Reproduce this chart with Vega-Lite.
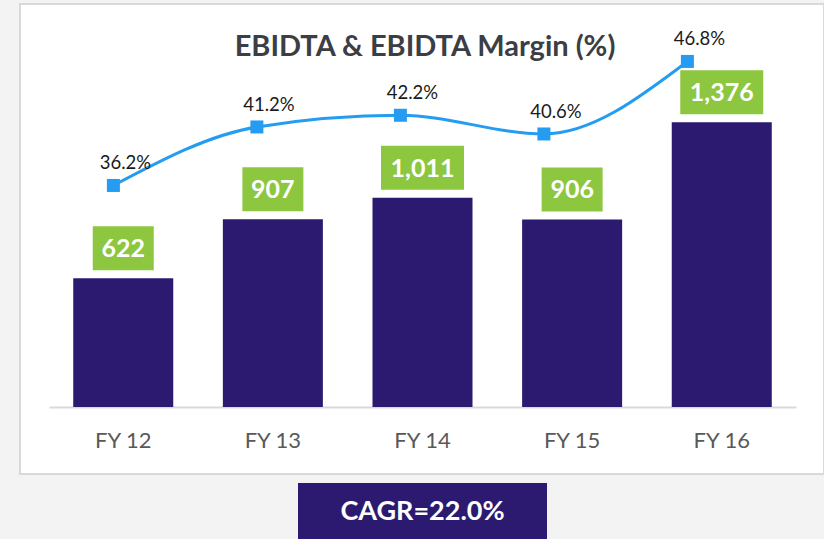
{
  "$schema": "https://vega.github.io/schema/vega-lite/v6.json",
  "width": 804,
  "height": 470,
  "autosize": {"type": "none"},
  "padding": {"left": 20, "top": 4, "right": 0, "bottom": 65},
  "background": "#f3f3f3",
  "config": {
    "view": {"fill": "white", "stroke": "#d9d9d9", "strokeWidth": 2},
    "font": "Lato"
  },
  "title": {
    "text": "EBIDTA & EBIDTA Margin (%)",
    "fontSize": 29,
    "fontWeight": "bold",
    "color": "#3b3e45",
    "anchor": "middle",
    "dx": 3,
    "offset": -58
  },
  "data": {
    "values": [
      {"year": "FY 12", "ebitda": 622, "margin": 36.2, "pct": "36.2%"},
      {"year": "FY 13", "ebitda": 907, "margin": 41.2, "pct": "41.2%"},
      {"year": "FY 14", "ebitda": 1011, "margin": 42.2, "pct": "42.2%"},
      {"year": "FY 15", "ebitda": 906, "margin": 40.6, "pct": "40.6%"},
      {"year": "FY 16", "ebitda": 1376, "margin": 46.8, "pct": "46.8%"}
    ]
  },
  "layer": [
    {
      "encoding": {
        "x": {
          "field": "year",
          "type": "nominal",
          "sort": null,
          "scale": {"range": [29, 776], "paddingInner": 0.3316, "paddingOuter": 0.162},
          "axis": {
            "title": null,
            "labelAngle": 0,
            "labelFont": "Lato",
            "labelFontSize": 22,
            "labelColor": "#595959",
            "labelPadding": 23,
            "ticks": false,
            "tickSize": 0,
            "domainColor": "#d9d9d9",
            "domainWidth": 2,
            "offset": -67,
            "grid": false
          }
        }
      },
      "layer": [
        {
          "mark": {"type": "bar", "color": "#2b1a70"},
          "encoding": {
            "y": {
              "field": "ebitda",
              "type": "quantitative",
              "scale": {"domain": [0, 1500], "range": [403, 92.5], "nice": false, "zero": true},
              "axis": null
            }
          }
        },
        {
          "transform": [{"filter": "datum.ebitda < 1000"}],
          "mark": {"type": "point", "shape": "M-1,-0.721H1V0.721H-1Z", "filled": true, "opacity": 1, "color": "#8dc63f", "size": 3721, "yOffset": -30},
          "encoding": {"y": {"field": "ebitda", "type": "quantitative"}}
        },
        {
          "transform": [{"filter": "datum.ebitda >= 1000"}],
          "mark": {"type": "point", "shape": "M-1,-0.53H1V0.53H-1Z", "filled": true, "opacity": 1, "color": "#8dc63f", "size": 6889, "yOffset": -30},
          "encoding": {"y": {"field": "ebitda", "type": "quantitative"}}
        },
        {
          "mark": {"type": "text", "color": "white", "fontWeight": "bold", "fontSize": 25, "baseline": "middle", "yOffset": -29},
          "encoding": {
            "y": {"field": "ebitda", "type": "quantitative"},
            "text": {"field": "ebitda", "type": "quantitative", "format": ","}
          }
        },
        {
          "data": {"values": [{"label": "CAGR=22.0%"}]},
          "mark": {"type": "point", "shape": "M-1,-0.2249H1V0.2249H-1Z", "filled": true, "opacity": 1, "color": "#2b1a70", "size": 62001, "yOffset": 104},
          "encoding": {"x": {"datum": "FY 14"}, "y": {"datum": 0}}
        },
        {
          "data": {"values": [{"label": "CAGR=22.0%"}]},
          "mark": {"type": "text", "color": "white", "fontWeight": "bold", "fontSize": 27, "baseline": "middle", "yOffset": 105},
          "encoding": {"x": {"datum": "FY 14"}, "y": {"datum": 0}, "text": {"field": "label"}}
        }
      ]
    },
    {
      "encoding": {
        "x": {
          "field": "year",
          "type": "nominal",
          "sort": null,
          "scale": {"type": "point", "range": [93.4, 667.4], "padding": 0},
          "axis": null
        },
        "y": {
          "field": "margin",
          "type": "quantitative",
          "scale": {"domain": [30, 50], "range": [254, 20], "nice": false, "zero": false},
          "axis": null
        }
      },
      "layer": [
        {"mark": {"type": "line", "color": "#249cf2", "strokeWidth": 3, "interpolate": "monotone"}},
        {"mark": {"type": "point", "shape": "square", "filled": true, "opacity": 1, "color": "#249cf2", "size": 169}},
        {
          "mark": {"type": "text", "fontSize": 18.5, "color": "#1a1a1a", "dx": 12, "dy": -22, "baseline": "middle"},
          "encoding": {"text": {"field": "pct"}}
        }
      ]
    }
  ],
  "resolve": {"scale": {"x": "independent", "y": "independent"}}
}
